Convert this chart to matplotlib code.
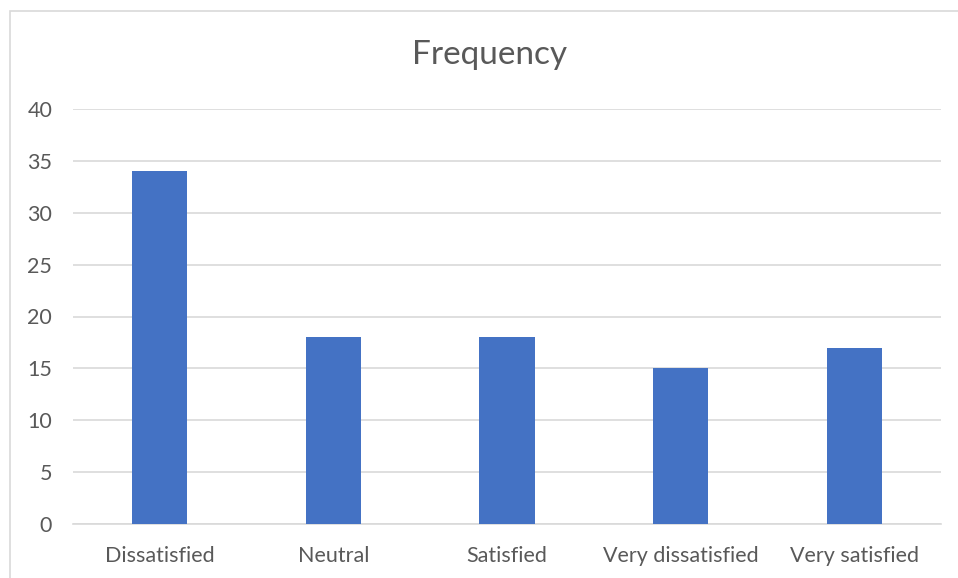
import matplotlib
matplotlib.use("Agg")
import matplotlib.pyplot as plt
from matplotlib.patches import Rectangle

categories = ["Dissatisfied", "Neutral", "Satisfied", "Very dissatisfied", "Very satisfied"]
frequency = [34, 18, 18, 15, 17]
y_ticks = [0, 5, 10, 15, 20, 25, 30, 35, 40]

W, H = 958, 578
fig = plt.figure(figsize=(W / 100, H / 100), dpi=100)
plt.rcParams["font.family"] = ["Lato", "DejaVu Sans"]

# chart-area border
fig.patches.append(Rectangle((10 / W, -0.01), 1.05, (H - 10.5) / H + 0.01,
                             transform=fig.transFigure, fill=False,
                             edgecolor="#d9d9d9", linewidth=1.2))

ax = fig.add_axes([73 / W, (H - 524) / H, (941 - 73) / W, (524 - 109) / H])
x = range(len(categories))
ax.bar(x, frequency, width=0.317, color="#4472c4", zorder=3)

ax.set_xlim(-0.5, len(categories) - 0.5)
ax.set_ylim(0, 40)
ax.set_yticks(y_ticks)
ax.set_xticks(list(x))
ax.set_xticklabels(categories)
ax.grid(axis="y", color="#d9d9d9", linewidth=1.2, zorder=0)
for side in ["top", "right", "left"]:
    ax.spines[side].set_visible(False)
ax.spines["bottom"].set_color("#d9d9d9")
ax.spines["bottom"].set_linewidth(1.2)
ax.tick_params(axis="both", length=0, labelsize=15.5, colors="#595959")
ax.tick_params(axis="x", pad=15.5)
ax.tick_params(axis="y", pad=15)

fig.text(490 / W, (H - 55) / H, "Frequency", ha="center", va="center",
         fontsize=24, color="#595959")

fig.savefig("out.png", dpi=100, facecolor="white")
